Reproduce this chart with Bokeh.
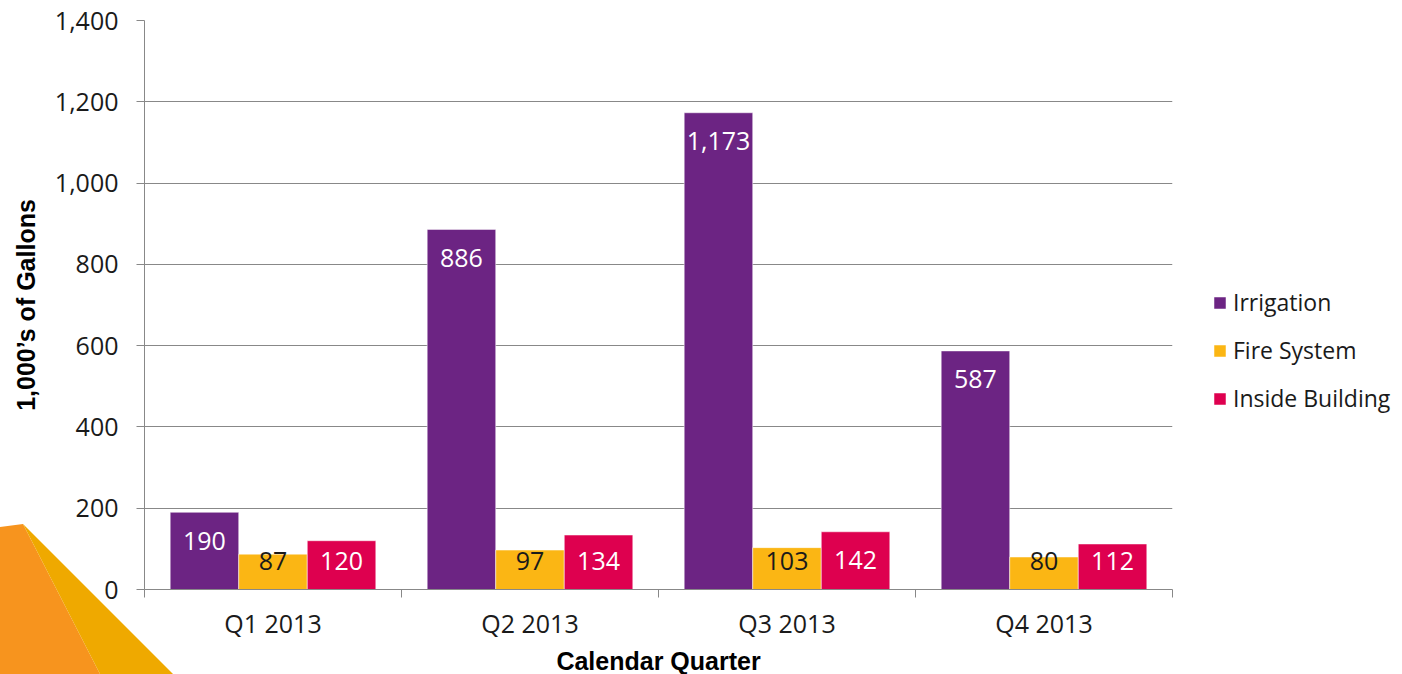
from bokeh.plotting import figure
from bokeh.models import (FixedTicker, Legend, LegendItem, ColumnDataSource,
                          Range1d, NumeralTickFormatter, InlineStyleSheet)
from bokeh.core.properties import value
from bokeh.embed import file_html
from bokeh.resources import INLINE

quarters = ["Q1 2013", "Q2 2013", "Q3 2013", "Q4 2013"]
series = ["Irrigation", "Fire System", "Inside Building"]
irrigation = [190, 886, 1173, 587]
fire_system = [87, 97, 103, 80]
inside_building = [120, 134, 142, 112]
colors = ["#6C2483", "#FBB614", "#DE004F"]
label_colors = ["white", "#1a1a1a", "white"]

FONT = "Open Sans"
FS = "25px"

p = figure(frame_width=1028, frame_height=569, output_backend="svg", toolbar_location=None,
           x_range=Range1d(0, 4), y_range=Range1d(0, 1400),
           min_border_left=144, min_border_right=0, min_border_top=20, min_border_bottom=0)
p.outline_line_color = None
p.background_fill_color = "white"
p.border_fill_alpha = 0

# decorative corner shapes (page background, not data)
deco_svg = ("<svg xmlns='http://www.w3.org/2000/svg' width='200' height='160'>"
            "<polygon points='0,3 23,0 100,150 0,150' fill='%23F7941E'/>"
            "<polygon points='23,0 173,150 100,150' fill='%23EFA900'/>"
            "</svg>")
p.stylesheets = [InlineStyleSheet(css=(
    ":host { background-color: white; background-image: url(\"data:image/svg+xml;utf8,"
    + deco_svg + "\"); background-repeat: no-repeat; background-position: 0px 524px; }"))]

bw = 0.8 / 3
offsets = [-bw, 0.0, bw]
vals = [irrigation, fire_system, inside_building]
renderers = []
for i, (name, v) in enumerate(zip(series, vals)):
    xs = [q + 0.5 + offsets[i] for q in range(len(quarters))]
    ly = [max(val - 70, 70) for val in v]
    src = ColumnDataSource(dict(x=xs, top=v, ly=ly, lab=[f"{val:,}" for val in v]))
    r = p.vbar(x="x", top="top", width=bw, source=src, fill_color=colors[i],
               line_color="white", line_width=0.5)
    renderers.append(r)
    p.text(x="x", y="ly", text="lab", source=src, text_align="center", text_baseline="middle",
           text_font=value(FONT), text_font_size=FS, text_color=label_colors[i])

# axes
p.xaxis.ticker = FixedTicker(ticks=[q + 0.5 for q in range(len(quarters))],
                             minor_ticks=list(range(len(quarters) + 1)))
p.xaxis.major_label_overrides = {q + 0.5: quarters[q] for q in range(len(quarters))}
p.xaxis.major_tick_out = 0
p.xaxis.major_tick_in = 0
p.xaxis.minor_tick_out = 8
p.xaxis.minor_tick_in = 0
p.xaxis.minor_tick_line_color = "#888888"
p.xaxis.axis_line_color = "#888888"
p.xaxis.major_label_text_font = FONT
p.xaxis.major_label_text_font_size = FS
p.xaxis.major_label_text_color = "#1a1a1a"
p.xaxis.major_label_standoff = 8
p.xaxis.axis_label = "Calendar Quarter"
p.xaxis.axis_label_text_font = "Liberation Sans"
p.xaxis.axis_label_text_font_style = "bold"
p.xaxis.axis_label_text_font_size = "25px"
p.xaxis.axis_label_text_color = "black"
p.xaxis.axis_label_standoff = 4

p.yaxis.ticker = FixedTicker(ticks=list(range(0, 1401, 200)))
p.yaxis.formatter = NumeralTickFormatter(format="0,0")
p.yaxis.major_tick_out = 8
p.yaxis.major_tick_in = 0
p.yaxis.minor_tick_line_color = None
p.yaxis.major_tick_line_color = "#888888"
p.yaxis.axis_line_color = "#888888"
p.yaxis.major_label_text_font = FONT
p.yaxis.major_label_text_font_size = FS
p.yaxis.major_label_text_color = "#1a1a1a"
p.yaxis.major_label_standoff = 18
p.yaxis.axis_label = "1,000’s of Gallons"
p.yaxis.axis_label_text_font = "Liberation Sans"
p.yaxis.axis_label_text_font_style = "bold"
p.yaxis.axis_label_text_font_size = "25px"
p.yaxis.axis_label_text_color = "black"
p.yaxis.axis_label_standoff = 12

p.xgrid.grid_line_color = None
p.ygrid.grid_line_color = "#888888"
p.ygrid.grid_line_width = 1

legend = Legend(items=[LegendItem(label=s, renderers=[r]) for s, r in zip(series, renderers)],
                location=(40, 175), orientation="vertical",
                glyph_width=15, glyph_height=15, label_height=15, spacing=16,
                label_standoff=6, padding=0, margin=0,
                label_text_font=FONT, label_text_font_size="23px", label_text_color="#1a1a1a",
                background_fill_alpha=0, border_line_color=None)
p.add_layout(legend, "right")

open("out.html", "w").write(file_html(p, INLINE))
